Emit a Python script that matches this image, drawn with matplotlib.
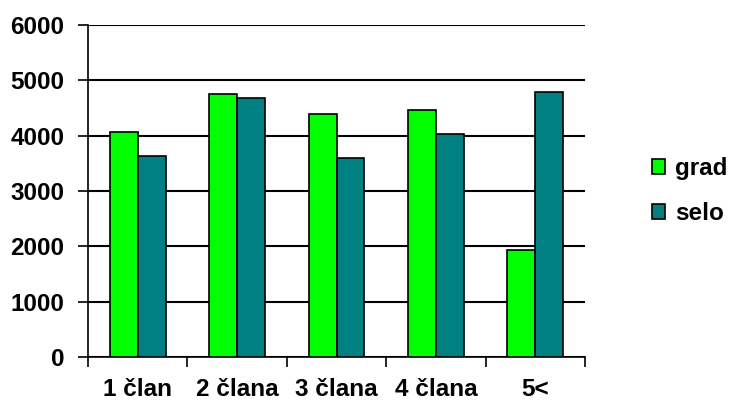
import numpy as np
import matplotlib.pyplot as plt
from matplotlib.ticker import FixedLocator

plt.rcParams['font.family'] = ['Liberation Sans', 'DejaVu Sans']
plt.rcParams['font.weight'] = 'bold'

categories = ['1 član', '2 člana', '3 člana', '4 člana', '5<']
grad = [4070, 4750, 4395, 4460, 1930]
selo = [3635, 4685, 3605, 4035, 4785]
y_ticks = [0, 1000, 2000, 3000, 4000, 5000, 6000]

fig = plt.figure(figsize=(7.34, 4.09), dpi=100)
ax = fig.add_axes([0.12, 0.127, 0.677, 0.812])

x = np.arange(len(categories))
w = 0.28
ax.bar(x - w / 2, grad, w, color='#00ff00', edgecolor='black', linewidth=1.2,
       label='grad', zorder=3)
ax.bar(x + w / 2, selo, w, color='#008080', edgecolor='black', linewidth=1.2,
       label='selo', zorder=3)

ax.set_xlim(-0.5, len(categories) - 0.5)
ax.set_ylim(0, 6000)
ax.set_yticks(y_ticks)
ax.yaxis.grid(True, color='black', linewidth=1.5, zorder=0)
ax.tick_params(axis='y', direction='out', length=7, width=1.2, labelsize=17.5, pad=10)

ax.set_xticks(x)
ax.set_xticklabels(categories)
ax.xaxis.set_minor_locator(FixedLocator(np.arange(len(categories) + 1) - 0.5))
ax.tick_params(axis='x', which='major', length=0, labelsize=17.5, pad=15)
ax.tick_params(axis='x', which='minor', direction='out', length=7, width=1.2)

for s in ['top', 'right']:
    ax.spines[s].set_visible(False)
for s in ['left', 'bottom']:
    ax.spines[s].set_linewidth(1.2)

ax.legend(loc='center left', bbox_to_anchor=(1.09, 0.5), frameon=False,
          fontsize=17.5, handlelength=0.55, handleheight=0.55, handletextpad=0.4,
          labelspacing=0.9)

fig.savefig('out.png', dpi=100)
